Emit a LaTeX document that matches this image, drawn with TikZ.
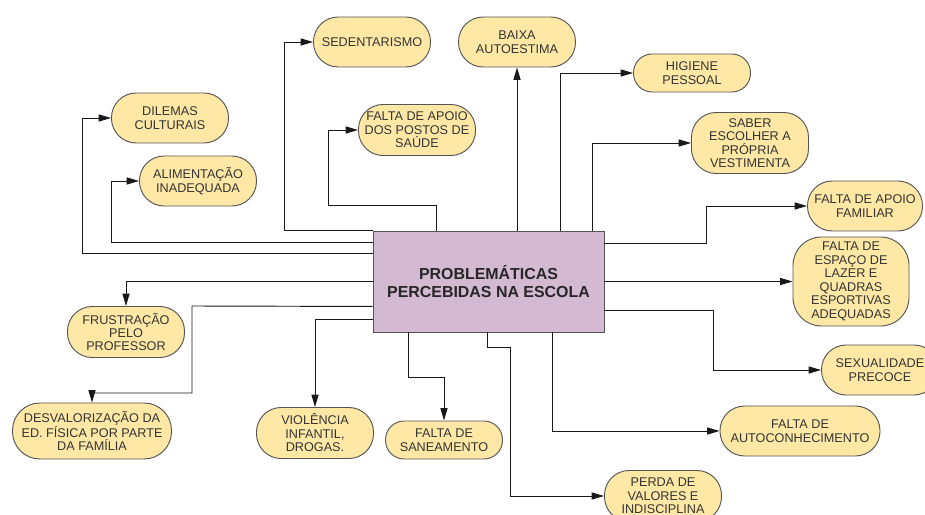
\documentclass[tikz,border=0pt]{standalone}
\usepackage{fontspec}
\setmainfont{Liberation Sans}
\usetikzlibrary{arrows.meta}
\definecolor{amarelo}{HTML}{FFE8A6}
\definecolor{lilas}{HTML}{D3BAD2}
\definecolor{borda}{HTML}{555555}

\begin{document}
\begin{tikzpicture}[x=0.03cm,y=-0.03cm]

      \useasboundingbox (0,0) rectangle (925,515);

      \node[draw=borda,fill=lilas,line width=0.8pt,inner sep=0pt,
            minimum width=6.93cm,minimum height=3.03cm,align=center,
            text=black!85,font=\fontsize{13.6}{15.4}\selectfont\bfseries]
            (prob) at (488.5,281.5) {PROBLEMÁTICAS\\PERCEBIDAS NA ESCOLA};

      \begin{scope}[every node/.style={draw=borda,fill=amarelo,line width=0.8pt,
            inner sep=0pt,align=center,text=black!80,
            font=\fontsize{10.8}{11.5}\selectfont,
            minimum width=3.51cm,minimum height=1.5cm,rounded corners=0.74cm}]
        \node (sed)     at (372,42)  {SEDENTARISMO};
        \node (baixa)   at (517,42)  {BAIXA\\AUTOESTIMA};
        \node[minimum height=1.14cm,rounded corners=0.56cm]
              (higiene) at (692,73)  {HIGIENE\\PESSOAL};
        \node[minimum height=1.83cm]
              (saber)   at (750,143) {SABER\\ESCOLHER A\\PRÓPRIA\\VESTIMENTA};
        \node[minimum width=3.45cm]
              (famil)   at (865,206) {FALTA DE APOIO\\FAMILIAR};
        \node[minimum width=3.48cm,minimum height=2.67cm,rounded corners=0.85cm]
              (espaco)  at (851,281.5) {FALTA DE\\ESPAÇO DE\\LAZER E\\QUADRAS\\ESPORTIVAS\\ADEQUADAS};
        \node (sexual)  at (880,370) {SEXUALIDADE\\PRECOCE};
        \node[minimum width=4.8cm]
              (autocon) at (800,431) {FALTA DE\\AUTOCONHECIMENTO};
        \node[minimum height=1.53cm]
              (perda)   at (663,496) {PERDA DE\\VALORES E\\INDISCIPLINA};
        \node[minimum height=1.14cm,rounded corners=0.56cm]
              (saneam)  at (444,440) {FALTA DE\\SANEAMENTO};
        \node[minimum height=1.53cm]
              (violen)  at (315,433) {VIOLÊNCIA\\INFANTIL,\\DROGAS.};
        \node[minimum width=4.77cm,minimum height=1.68cm,rounded corners=0.82cm]
              (desval)  at (92,431)  {DESVALORIZAÇÃO DA\\ED. FÍSICA POR PARTE\\DA FAMÍLIA};
        \node[minimum height=1.53cm]
              (frustr)  at (126,332) {FRUSTRAÇÃO\\PELO\\PROFESSOR};
        \node (alim)    at (198,181) {ALIMENTAÇÃO\\INADEQUADA};
        \node (dilemas) at (170,118) {DILEMAS\\CULTURAIS};
        \node[minimum height=1.53cm]
              (postos)  at (417,130) {FALTA DE APOIO\\DOS POSTOS DE\\SAÚDE};
      \end{scope}

      \begin{scope}[->,>={Triangle[length=10.5pt,width=6pt]},line width=0.8pt,black!90]
        % top side
        \draw (prob.north west) -| (284,42) -- (sed);
        \draw (prob.north west) ++(64,0) |- (328,205) |- (postos);
        \draw (prob.north -| baixa) -- (baixa);
        \draw (prob.north west) ++(188,0) |- (higiene);
        \draw (prob.north west) ++(220,0) |- (saber);
        % right side
        \draw (prob.north east) ++(0,13) -| (706,206) -- (famil);
        \draw (prob.east) -- (espaco);
        \draw (prob.south east) ++(0,-22) -| (713,370) -- (sexual);
        % bottom side
        \draw (prob.south west) ++(180,0) |- (autocon);
        \draw (prob.south west) ++(115,0) |- (510,347) |- (perda);
        \draw (prob.south west) ++(36,0) |- (444,377) -- (saneam);
        % left side
        \draw (prob.south west) ++(0,-13) -| (violen);
        \draw (prob.south west) ++(0,-26) -- (192,306) |- (92,393) -- (desval);
        \draw (prob.west) -| (frustr);
        \draw (prob.north west) ++(0,12) -| (111,181) -- (alim);
        \draw (prob.north west) ++(0,23) -| (82,118) -- (dilemas);
      \end{scope}

\end{tikzpicture}
\end{document}
